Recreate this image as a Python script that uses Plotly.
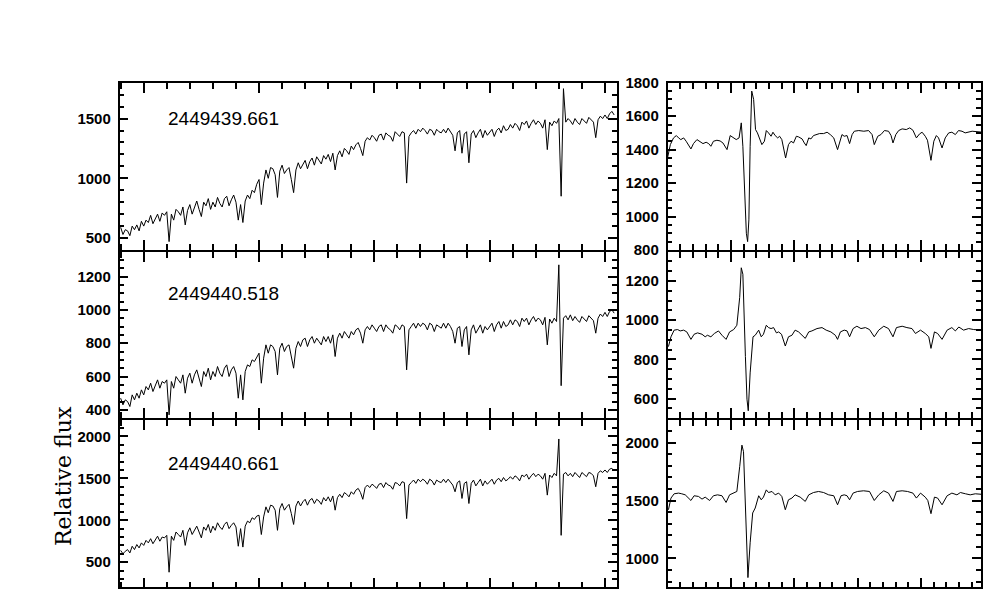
import numpy as np
import plotly.graph_objects as go

# ---------------- data ----------------
# Left panels: full spectra on a 2 A grid starting at 6180 A
wl_start = 6180
wl_step = 2

flux_left_1 = [  # 2449439.661
    590, 530, 570, 560, 520, 600, 570, 610, 560, 640,
    600, 650, 630, 690, 620, 660, 700, 640, 710, 690,
    720, 470, 700, 650, 740, 720, 690, 760, 610, 730,
    780, 700, 760, 810, 740, 680, 800, 770, 830, 740,
    800, 760, 840, 790, 760, 830, 850, 770, 820, 860,
    800, 650, 780, 630, 810, 860, 830, 900, 880, 950,
    990, 780, 960, 1070, 1000, 1090, 1080, 1030, 840, 1060,
    1110, 1040, 1070, 1090, 990, 880, 1070, 1130, 1080, 1120,
    1150, 1080, 1140, 1170, 1110, 1180, 1150, 1120, 1190, 1160,
    1200, 1140, 1210, 1070, 1190, 1230, 1180, 1250, 1230, 1200,
    1270, 1240, 1280, 1300, 1250, 1190, 1310, 1340, 1320, 1360,
    1340, 1310, 1360, 1370, 1320, 1380, 1360, 1350, 1310, 1390,
    1370, 1350, 1390, 1380, 960, 1350, 1380, 1400, 1370, 1410,
    1390, 1420, 1400, 1370, 1410, 1400, 1360, 1410, 1390, 1380,
    1410, 1380, 1420, 1390, 1360, 1230, 1380, 1400, 1210, 1370,
    1390, 1130, 1370, 1400, 1340, 1380, 1410, 1340, 1400, 1360,
    1390, 1410, 1350, 1400, 1420, 1380, 1440, 1400, 1410, 1450,
    1420, 1460, 1440, 1400, 1470, 1450, 1480, 1420, 1460, 1490,
    1450, 1480, 1460, 1420, 1490, 1240, 1470, 1440, 1480, 1460,
    1500, 850, 1750, 1470, 1500, 1480, 1450, 1500, 1470, 1450,
    1500, 1480, 1460, 1510, 1490, 1470, 1340, 1490, 1520, 1500,
    1530, 1500, 1540, 1560, 1530,
]

flux_left_2 = [  # 2449440.518
    470, 430, 460, 450, 420, 490, 460, 500, 470, 520,
    490, 540, 520, 560, 510, 550, 580, 530, 570, 560,
    580, 370, 570, 530, 600, 580, 560, 610, 500, 590,
    620, 560, 610, 640, 590, 540, 630, 600, 650, 580,
    630, 600, 660, 620, 600, 650, 670, 600, 640, 660,
    620, 470, 610, 460, 630, 670, 660, 700, 690, 720,
    740, 560, 710, 790, 740, 790, 780, 750, 610, 770,
    800, 750, 780, 790, 720, 650, 770, 810, 780, 820,
    830, 780, 820, 840, 800, 830, 810, 790, 840, 810,
    840, 800, 850, 720, 830, 860, 830, 870, 850, 830,
    870, 850, 880, 890, 860, 800, 880, 900, 880, 910,
    890, 870, 900, 910, 870, 910, 890, 880, 860, 910,
    900, 880, 910, 900, 640, 880, 900, 920, 890, 920,
    900, 920, 910, 880, 920, 910, 870, 910, 900, 890,
    920, 890, 920, 900, 870, 800, 890, 900, 780, 880,
    900, 730, 880, 910, 860, 890, 910, 860, 900, 880,
    900, 920, 870, 910, 930, 890, 930, 900, 910, 940,
    910, 940, 930, 900, 950, 930, 950, 910, 940, 960,
    930, 950, 940, 910, 955, 790, 945, 920, 950, 930,
    1270, 545, 950, 965, 940, 970, 935, 960, 940, 925,
    960, 945, 930, 965, 950, 935, 860, 950, 975, 960,
    985, 960, 990, 1000, 980,
]

flux_left_3 = [  # 2449440.661
    640, 600, 630, 650, 610, 690, 650, 710, 670, 730,
    700, 760, 730, 780, 720, 770, 810, 750, 800, 790,
    820, 380, 810, 760, 860, 830, 800, 880, 700, 850,
    910, 830, 890, 930, 860, 790, 920, 880, 950, 850,
    930, 880, 970, 920, 890, 950, 980, 900, 940, 970,
    920, 690, 900, 680, 930, 990, 970, 1030, 1010, 1050,
    1060, 830, 1040, 1160, 1090, 1180, 1170, 1120, 880, 1140,
    1200, 1120, 1160, 1190, 1080, 950, 1170, 1230, 1170, 1220,
    1250, 1180, 1240, 1260, 1200, 1250, 1230, 1190, 1270, 1230,
    1280, 1220, 1290, 1120, 1270, 1310, 1270, 1330, 1310, 1280,
    1340, 1310, 1360, 1380, 1330, 1250, 1390, 1420, 1390, 1430,
    1410, 1380, 1430, 1440, 1390, 1450, 1420, 1410, 1370, 1450,
    1440, 1410, 1460, 1450, 1020, 1420, 1450, 1480, 1440, 1490,
    1460, 1490, 1470, 1430, 1490, 1470, 1420, 1480, 1460, 1450,
    1490, 1450, 1490, 1460, 1420, 1340, 1450, 1470, 1260, 1440,
    1460, 1200, 1440, 1480, 1410, 1450, 1490, 1410, 1470, 1430,
    1460, 1490, 1430, 1480, 1500, 1460, 1510, 1470, 1490, 1520,
    1490, 1530, 1510, 1470, 1540, 1520, 1550, 1490, 1530, 1560,
    1520, 1550, 1530, 1490, 1560, 1300, 1540, 1510, 1560, 1530,
    1970, 820, 1550, 1570, 1530, 1560, 1520, 1570, 1540, 1510,
    1570, 1550, 1520, 1570, 1560, 1530, 1400, 1560, 1590, 1570,
    1600, 1570, 1610, 1620, 1590,
]

# Right panels: H-alpha region
wl_right_1 = [
    6540.0, 6540.9, 6541.9, 6542.8, 6543.5, 6544.2, 6545.1, 6545.9, 6547.4, 6548.2,
    6549.3, 6550.3, 6551.2, 6552.2, 6553.0, 6553.7, 6554.5, 6555.6, 6556.6, 6557.5,
    6558.8, 6559.8, 6560.7, 6561.7, 6562.6, 6563.3, 6563.8, 6564.3, 6564.9, 6565.3,
    6565.7, 6566.1, 6566.6, 6567.2, 6567.8, 6568.4, 6569.1, 6569.8, 6570.6, 6571.2,
    6571.9, 6572.7, 6573.3, 6574.0, 6574.8, 6575.4, 6576.1, 6577.3, 6578.2, 6579.0,
    6579.8, 6580.7, 6581.4, 6582.5, 6583.2, 6583.8, 6584.6, 6585.3, 6586.1, 6587.2,
    6588.0, 6589.3, 6590.4, 6591.4, 6592.5, 6593.7, 6594.6, 6595.1, 6595.8, 6596.7,
    6597.5, 6598.3, 6599.0, 6600.4, 6602.0, 6603.5, 6604.6, 6605.3, 6606.4, 6607.4,
    6608.5, 6609.8, 6610.6, 6611.2, 6612.1, 6613.0, 6614.1, 6615.4, 6616.5, 6617.5,
    6618.6, 6619.6, 6620.4, 6621.4, 6622.1, 6623.2, 6624.1, 6624.9, 6625.6, 6626.7,
    6627.7, 6628.8, 6629.8, 6630.9, 6631.9, 6633.0, 6634.0, 6635.1, 6636.2, 6639.0,
]
flux_right_1 = [
    1350, 1430, 1470, 1484, 1470, 1460, 1470, 1450, 1404, 1436,
    1460, 1450, 1436, 1444, 1436, 1420, 1450, 1456, 1452, 1440,
    1400, 1484, 1470, 1460, 1470, 1560, 1420, 1140, 900, 850,
    980, 1420, 1750, 1700, 1520, 1500, 1460, 1430, 1450, 1514,
    1500, 1480, 1504, 1484, 1470, 1480, 1460, 1350, 1430, 1450,
    1440, 1480, 1476, 1464, 1440, 1424, 1470, 1464, 1484, 1490,
    1496, 1496, 1504, 1490, 1470, 1400, 1460, 1490, 1480, 1484,
    1436, 1490, 1510, 1514, 1510, 1514, 1490, 1430, 1480, 1490,
    1514, 1510, 1484, 1440, 1490, 1514, 1524, 1520, 1530, 1516,
    1470, 1494, 1504, 1480, 1456, 1336, 1450, 1484, 1470, 1410,
    1470, 1500, 1504, 1490, 1514, 1510, 1500, 1504, 1510, 1505,
]

wl_right_2 = [
    6540.3, 6541.1, 6542.1, 6543.2, 6544.0, 6545.1, 6546.1, 6547.4, 6548.4, 6549.5,
    6550.9, 6551.9, 6552.6, 6553.7, 6554.8, 6556.1, 6557.2, 6558.5, 6559.6, 6560.9,
    6561.9, 6562.8, 6563.3, 6563.8, 6564.6, 6565.1, 6565.5, 6566.1, 6567.0, 6567.7,
    6568.8, 6569.6, 6570.3, 6571.2, 6571.9, 6572.7, 6573.5, 6574.4, 6575.1, 6576.0,
    6577.2, 6578.2, 6579.3, 6580.3, 6581.4, 6582.5, 6583.5, 6584.6, 6585.6, 6587.2,
    6588.8, 6590.1, 6591.6, 6593.0, 6593.7, 6594.6, 6595.8, 6596.7, 6597.5, 6598.6,
    6599.8, 6601.1, 6602.5, 6603.8, 6605.3, 6606.7, 6608.3, 6609.8, 6611.2, 6612.3,
    6614.1, 6615.6, 6617.2, 6618.3, 6619.9, 6621.4, 6622.5, 6623.2, 6624.3, 6625.3,
    6626.7, 6628.3, 6629.8, 6630.9, 6632.0, 6633.5, 6635.1, 6636.7, 6639.0,
]
flux_right_2 = [
    865, 915, 949, 952, 945, 949, 940, 902, 928, 935,
    928, 915, 923, 915, 932, 945, 923, 902, 940, 952,
    974, 1116, 1267, 1234, 815, 597, 538, 731, 915, 923,
    949, 915, 928, 974, 962, 957, 962, 935, 940, 928,
    868, 915, 923, 949, 940, 923, 907, 940, 945, 957,
    962, 949, 940, 923, 902, 940, 949, 945, 915, 957,
    969, 957, 962, 952, 915, 949, 969, 957, 915, 962,
    969, 962, 957, 932, 949, 932, 915, 856, 940, 932,
    902, 949, 962, 945, 965, 949, 957, 952, 950,
]

wl_right_3 = [
    6540.3, 6541.1, 6542.1, 6543.5, 6544.5, 6545.6, 6547.4, 6548.4, 6549.8, 6550.9,
    6551.9, 6553.3, 6554.5, 6555.8, 6557.2, 6558.5, 6559.6, 6560.9, 6561.9, 6562.8,
    6563.5, 6564.0, 6564.8, 6565.4, 6566.1, 6566.9, 6567.7, 6568.8, 6569.6, 6570.3,
    6571.2, 6571.9, 6573.0, 6574.0, 6575.1, 6576.1, 6577.2, 6578.2, 6579.3, 6580.3,
    6581.9, 6583.5, 6584.6, 6586.1, 6587.7, 6589.3, 6590.9, 6592.5, 6593.7, 6594.8,
    6595.8, 6596.7, 6597.5, 6598.6, 6600.0, 6601.9, 6603.8, 6605.3, 6606.7, 6608.3,
    6609.8, 6611.2, 6612.3, 6614.1, 6615.8, 6617.5, 6618.6, 6619.9, 6621.4, 6622.2,
    6623.2, 6624.3, 6625.3, 6626.7, 6628.3, 6629.8, 6631.4, 6632.5, 6634.1, 6635.6,
    6637.2, 6639.0,
]
flux_right_3 = [
    1421, 1522, 1559, 1565, 1559, 1550, 1501, 1542, 1536, 1513,
    1530, 1501, 1542, 1550, 1542, 1484, 1550, 1570, 1579, 1794,
    1980, 1923, 1278, 834, 1135, 1393, 1436, 1542, 1507, 1530,
    1593, 1570, 1579, 1550, 1565, 1536, 1421, 1507, 1522, 1550,
    1530, 1493, 1550, 1570, 1579, 1570, 1550, 1542, 1464, 1542,
    1550, 1542, 1507, 1565, 1579, 1585, 1579, 1501, 1550, 1585,
    1565, 1493, 1579, 1585, 1579, 1565, 1522, 1565, 1530, 1501,
    1387, 1530, 1522, 1464, 1542, 1565, 1550, 1570, 1559, 1550,
    1559, 1555,
]

dates = ["2449439.661", "2449440.518", "2449440.661"]
y_label = "Relative flux"

# axis settings (value space)
left_range = [6179, 6610]
right_range = [6540, 6639]
y_ranges_left = [[400, 1800], [350, 1350], [200, 2200]]
y_ranges_right = [[799.9, 1800.1], [500, 1350], [750, 2200]]
y_dtick_left = [500, 200, 500]
y_minor_left = [100, 50, 100]
y_dtick_right = [200, 200, 500]
y_minor_right = [50, 50, 100]

# ---------------- figure ----------------
W, H = 983, 589

def px_x(p):
    return p / W

def px_y(p):
    return 1 - p / H

left_dom = [px_x(119.5), px_x(616.5)]
right_dom = [px_x(667.5), px_x(981)]
# rows: shared frame lines coincide (lines are drawn outside the plot area)
row_edges = [(82.7, 250.0), (251.5, 418.2), (419.7, 587.3)]

fig = go.Figure()

left_series = [flux_left_1, flux_left_2, flux_left_3]
right_series = [(wl_right_1, flux_right_1), (wl_right_2, flux_right_2), (wl_right_3, flux_right_3)]

axfont = dict(family="Liberation Sans", size=15, color="black", weight="bold")


def axname(kind, k):
    return kind if k == 1 else f"{kind}{k}"


def lay(kind, k):
    return f"{kind}axis" if k == 1 else f"{kind}axis{k}"


tick_common = dict(showgrid=False, zeroline=False, ticks="inside", tickwidth=1.5,
                   tickcolor="black", automargin=False)

for r in range(3):
    for side in range(2):
        k = 2 * r + 1 + side          # main panel index 1..6
        ko = k + 6                    # overlay index for mirrored ticks
        if side == 0:
            xs, ys = wl_start + wl_step * np.arange(len(left_series[r])), left_series[r]
            xr, xd, xm, xdom = left_range, 100, 20, left_dom
            yr, yd, ym = y_ranges_left[r], y_dtick_left[r], y_minor_left[r]
        else:
            xs, ys = right_series[r]
            xr, xd, xm, xdom = right_range, 20, 4, right_dom
            yr, yd, ym = y_ranges_right[r], y_dtick_right[r], y_minor_right[r]
        top, bot = row_edges[r]
        ydom = [px_y(bot), px_y(top)]

        fig.add_trace(go.Scatter(x=xs, y=ys, mode="lines",
                                 line=dict(color="black", width=1),
                                 xaxis=axname("x", k), yaxis=axname("y", k),
                                 showlegend=False, hoverinfo="skip"))
        # empty traces to activate the mirrored-tick axes
        fig.add_trace(go.Scatter(x=[], y=[], xaxis=axname("x", ko), yaxis=axname("y", k),
                                 showlegend=False, hoverinfo="skip"))
        fig.add_trace(go.Scatter(x=[], y=[], xaxis=axname("x", k), yaxis=axname("y", ko),
                                 showlegend=False, hoverinfo="skip"))

        xminor = dict(ticks="inside", ticklen=6, tickwidth=1.5, tickcolor="black",
                      showgrid=False, dtick=xm)
        yminor = dict(ticks="inside", ticklen=5, tickwidth=1.5, tickcolor="black",
                      showgrid=False, dtick=ym)

        fig.layout[lay("x", k)] = dict(
            tick_common, domain=xdom, range=xr, dtick=xd, tick0=6000, ticklen=10,
            showline=True, linecolor="black", linewidth=1.5, mirror=True,
            showticklabels=False, minor=xminor, anchor=axname("y", k))
        fig.layout[lay("x", ko)] = dict(
            tick_common, domain=xdom, range=xr, dtick=xd, tick0=6000, ticklen=10,
            showline=False, showticklabels=False, minor=xminor,
            overlaying=axname("x", k), side="top", anchor=axname("y", k))
        fig.layout[lay("y", k)] = dict(
            tick_common, domain=ydom, range=yr, dtick=yd, tick0=0, ticklen=9,
            showline=True, linecolor="black", linewidth=1.5, mirror=True,
            tickfont=axfont, ticklabelstandoff=4, minor=yminor, anchor=axname("x", k))
        fig.layout[lay("y", ko)] = dict(
            tick_common, domain=ydom, range=yr, dtick=yd, tick0=0, ticklen=9,
            showline=False, showticklabels=False, minor=yminor,
            overlaying=axname("y", k), side="right", anchor=axname("x", k))

# date annotations
date_y = [118.3, 293.3, 463.3]
for r in range(3):
    fig.add_annotation(x=px_x(166), y=px_y(date_y[r]), xref="paper", yref="paper",
                       text=dates[r], showarrow=False, xanchor="left", yanchor="middle",
                       font=dict(family="Liberation Sans", size=19, color="black"))

fig.add_annotation(x=px_x(63), y=px_y(476), xref="paper", yref="paper",
                   text=y_label, showarrow=False, textangle=-90,
                   xanchor="center", yanchor="middle",
                   font=dict(family="DejaVu Serif", size=22, color="black"))

fig.update_layout(width=W, height=H, margin=dict(l=0, r=0, t=0, b=0, autoexpand=False),
                  paper_bgcolor="white", plot_bgcolor="white")

fig.write_html("out.html", config={"displayModeBar": False},
               post_script="document.body.style.margin='0px';document.body.style.overflow='hidden';")
